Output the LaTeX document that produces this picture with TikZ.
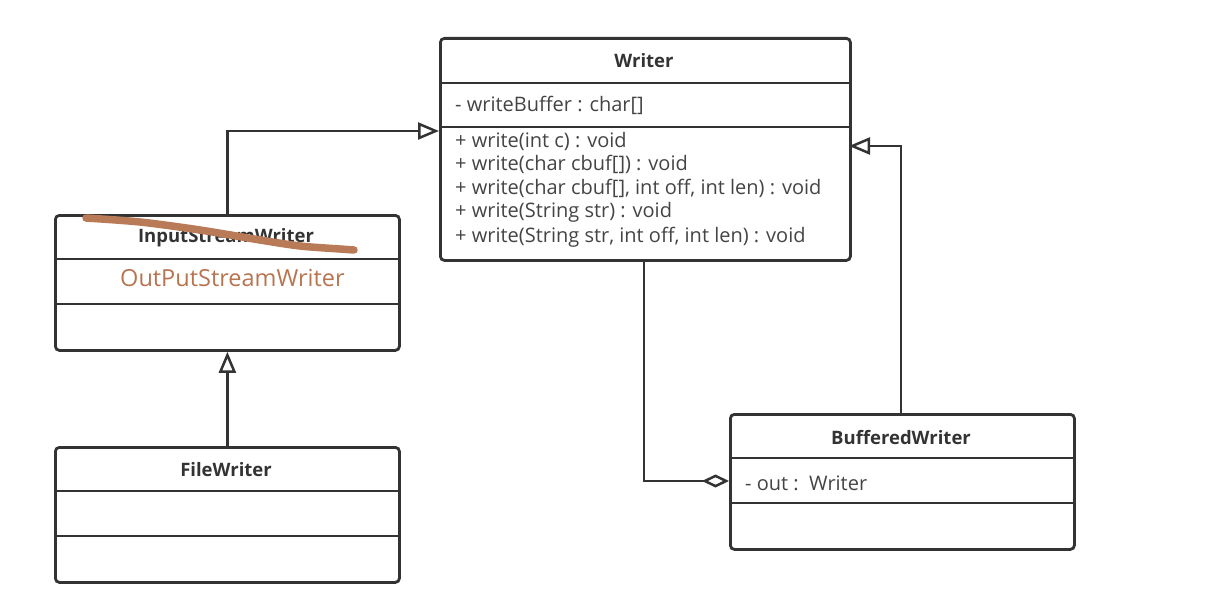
\documentclass[tikz,border=0pt]{standalone}
\usepackage{fontspec}
\setmainfont{Open Sans}
\usetikzlibrary{arrows.meta}
\definecolor{ln}{HTML}{333333}
\definecolor{tx}{HTML}{444444}
\definecolor{orng}{HTML}{B8734F}
\definecolor{scrib}{HTML}{B97A57}
\tikzset{
  cls/.style={draw=ln, line width=2.8pt, rounded corners=4pt, inner sep=0pt, anchor=north west},
  sep/.style={draw=ln, line width=2.5pt},
  title/.style={font=\bfseries\fontsize{18.5}{22}\selectfont, text=ln},
  memb/.style={font=\fontsize{20}{22}\selectfont, text=tx, anchor=west, inner sep=0pt},
  conn/.style={draw=ln, line width=2.8pt},
  inh/.style={conn, -{Triangle[open, length=21pt, width=17pt, line width=2.5pt]}},
  agg/.style={conn, {Diamond[open, length=27pt, width=13pt, line width=2.5pt]}-},
}
\begin{document}
\begin{tikzpicture}[x=1pt, y=-1pt]
\useasboundingbox (0,0) rectangle (1219,607);

% Writer
\node[cls, minimum width=410pt, minimum height=222pt] (W) at (439,37) {};
\draw[sep] (439,83) -- (849,83);
\draw[sep] (439,127) -- (849,127);
\node[title] (Wt) at (644,61) {Writer};
\node[memb] (Wa) at (455,105) {- writeBuffer : char[]};
\node[memb] (Wm1) at (455,141) {+ write(int c) : void};
\node[memb] (Wm2) at (455,164) {+ write(char cbuf[]) : void};
\node[memb] (Wm3) at (455,188) {+ write(char cbuf[], int off, int len) : void};
\node[memb] (Wm4) at (455,212) {+ write(String str) : void};
\node[memb] (Wm5) at (455,237) {+ write(String str, int off, int len) : void};

% InputStreamWriter
\node[cls, minimum width=344pt, minimum height=135pt] (I) at (54,214) {};
\draw[sep] (54,259) -- (398,259);
\draw[sep] (54,304) -- (398,304);
\node[title] (It) at (226,238) {InputStreamWriter};
\node[font=\fontsize{23.5}{26}\selectfont, text=orng, anchor=west, inner sep=0pt] (Io) at (120,278) {OutPutStreamWriter};
\draw[scrib, line width=7.5pt, line cap=round] plot[smooth] coordinates {(86,218) (140,222) (200,230) (260,240) (300,246) (340,249) (354,250)};

% FileWriter
\node[cls, minimum width=344pt, minimum height=135pt] (F) at (54,446) {};
\draw[sep] (54,491) -- (398,491);
\draw[sep] (54,536) -- (398,536);
\node[title] (Ft) at (226,470) {FileWriter};

% BufferedWriter
\node[cls, minimum width=344pt, minimum height=135pt] (B) at (729,413) {};
\draw[sep] (729,458) -- (1073,458);
\draw[sep] (729,503) -- (1073,503);
\node[title] (Bt) at (901,438) {BufferedWriter};
\node[memb] (Ba) at (745,483) {- out :\ \ Writer};

% connectors
\coordinate (Wl) at (439,131);
\coordinate (Wr) at (849,146);
\coordinate (Wb) at (644,259);
\coordinate (Bl) at (729,481);
\coordinate (Bt0) at (901,413);
\draw[inh] (I.north) |- (Wl);
\draw[inh] (F.north) -- (I.south);
\draw[inh] (Bt0) |- (Wr);
\draw[agg] (Bl) -| (Wb);
\end{tikzpicture}
\end{document}
